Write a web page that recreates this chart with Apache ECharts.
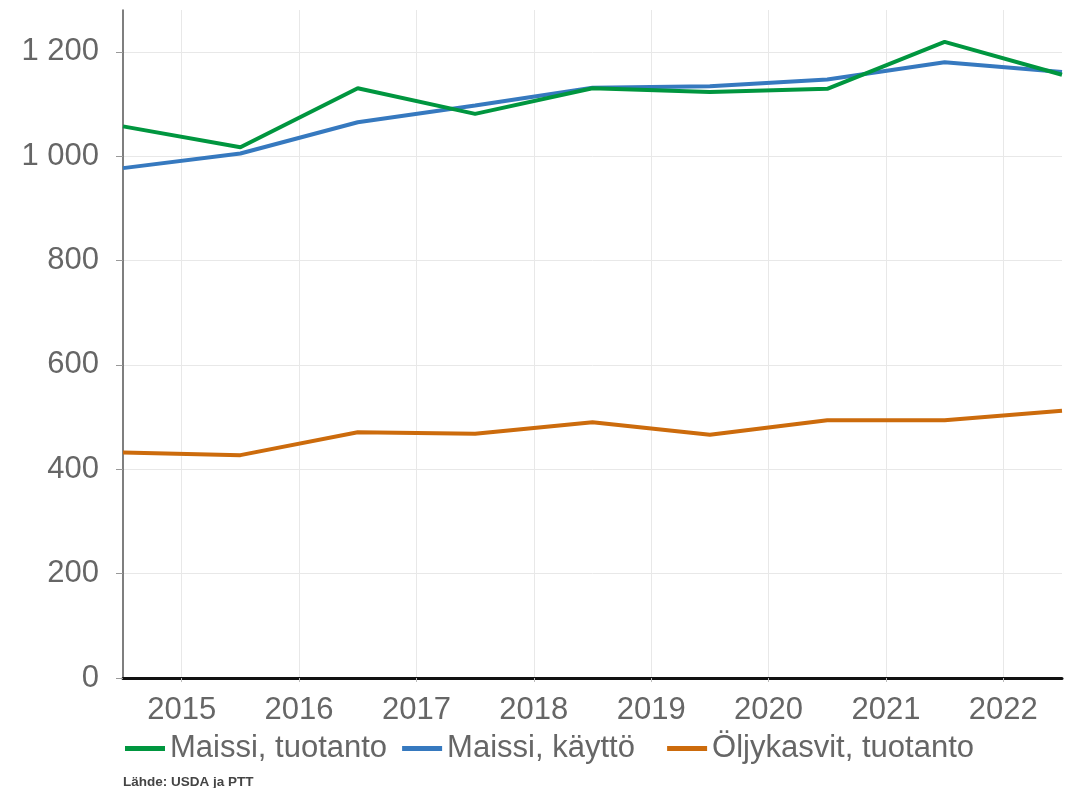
<!DOCTYPE html>
<html>
<head>
<meta charset="utf-8">
<script src="https://cdn.jsdelivr.net/npm/echarts@6/dist/echarts.min.js"></script>
<style>
  html, body { margin: 0; padding: 0; background: #fff; }
  #main { width: 1069px; height: 788px; }
</style>
</head>
<body>
<div id="main"></div>
<script>
// vuosien nimet (keskellä jaksoa)
var years = ['2015', '2016', '2017', '2018', '2019', '2020', '2021', '2022'];
// havainnot jaksojen rajoilla, 9 pistettä
var maissiTuotanto = [1057, 1017, 1130, 1081, 1130, 1123, 1129, 1219, 1156];
var maissiKaytto = [977, 1005, 1065, 1097, 1131, 1134, 1147, 1180, 1161];
var oljyTuotanto = [432, 427, 471, 468, 490, 466, 494, 494, 512];
var yTicks = [0, 200, 400, 600, 800, 1000, 1200];

var labelPos = years.map(function(y, i) { return i + 0.5; });

function toPoints(arr) {
  return arr.map(function(v, i) { return [i, v]; });
}

var chart = echarts.init(document.getElementById('main'));

var font = 'Liberation Sans, Arial, sans-serif';

chart.setOption({
  animation: false,
  grid: { left: 123, right: 7, top: 10, bottom: 110 },
  xAxis: {
    type: 'value',
    min: 0,
    max: years.length,
    axisLine: { show: true, onZero: false, lineStyle: { color: '#111', width: 3 } },
    axisTick: { show: true, customValues: labelPos, length: 4, lineStyle: { color: '#bbb' } },
    axisLabel: {
      customValues: labelPos,
      color: '#666',
      fontSize: 31,
      fontFamily: font,
      margin: 17,
      formatter: function(v) { return years[Math.round(v - 0.5)]; }
    },
    splitLine: { show: true, lineStyle: { color: '#e8e8e8', width: 1 } }
  },
  yAxis: {
    type: 'value',
    min: 0,
    max: 1280,
    axisLine: { show: true, lineStyle: { color: '#555', width: 1.5 } },
    axisTick: { show: true, customValues: yTicks, length: 7, lineStyle: { color: '#999' } },
    axisLabel: {
      customValues: yTicks,
      color: '#666',
      fontSize: 31,
      fontFamily: font,
      margin: 24,
      formatter: function(v) { return v >= 1000 ? Math.floor(v / 1000) + ' ' + String(v % 1000).padStart(3, '0') : String(v); }
    },
    splitLine: { show: true, lineStyle: { color: '#e8e8e8', width: 1 } }
  },
  legend: {
    left: 120,
    top: 728,
    icon: 'rect',
    itemWidth: 40,
    itemHeight: 5,
    itemGap: 15,
    textStyle: { color: '#666', fontSize: 31, fontFamily: font },
    formatter: function(name) {
      // Helvetica-leveyden tasaus
      return name === 'Maissi, käyttö' ? name + '\u00a0\u00a0' : name;
    },
    data: ['Maissi, tuotanto', 'Maissi, käyttö', 'Öljykasvit, tuotanto']
  },
  graphic: [{
    type: 'text',
    left: 123,
    top: 775,
    style: { text: 'Lähde: USDA ja PTT', fill: '#444', fontSize: 13.5, fontWeight: 'bold', fontFamily: font }
  }],
  series: [
    { name: 'Maissi, tuotanto', type: 'line', data: toPoints(maissiTuotanto), symbol: 'none',
      lineStyle: { color: '#00963f', width: 4 }, itemStyle: { color: '#00963f' }, z: 3 },
    { name: 'Maissi, käyttö', type: 'line', data: toPoints(maissiKaytto), symbol: 'none',
      lineStyle: { color: '#3679bf', width: 4 }, itemStyle: { color: '#3679bf' }, z: 2 },
    { name: 'Öljykasvit, tuotanto', type: 'line', data: toPoints(oljyTuotanto), symbol: 'none',
      lineStyle: { color: '#cc6b0c', width: 4 }, itemStyle: { color: '#cc6b0c' }, z: 2 }
  ]
});
</script>
</body>
</html>
